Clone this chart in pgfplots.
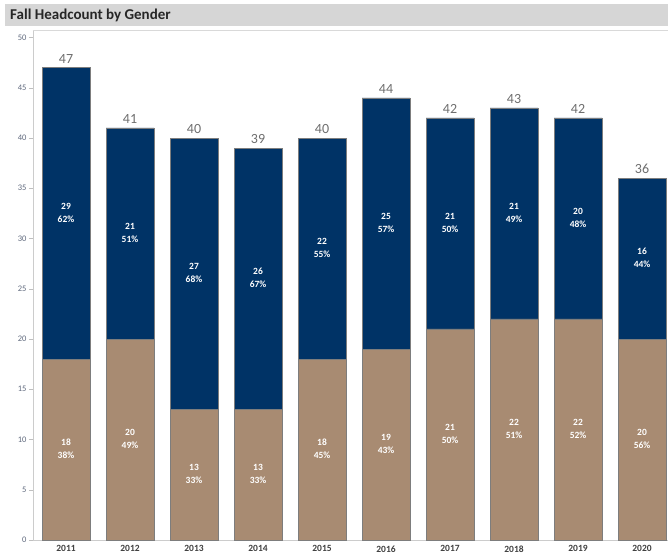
\documentclass[border=0pt]{standalone}
\usepackage{pgfplots}
\pgfplotsset{compat=1.18}
\usepackage{fontspec}
\setmainfont{Carlito}
\definecolor{navy}{RGB}{0,51,102}
\definecolor{tanc}{RGB}{168,139,114}
\definecolor{ticktxt}{RGB}{95,105,125}
\definecolor{titlebg}{RGB}{214,214,214}
\definecolor{outl}{RGB}{125,125,125}
\definecolor{totc}{RGB}{110,110,110}
\newcommand\lab[2]{\begin{tabular}{@{}c@{}}#1\\#2\%\end{tabular}}
\pgfplotsset{
  common/.style={
    scale only axis, width=635pt, height=510pt,
    xmin=-0.516, xmax=9.406, ymin=0, ymax=50.75,
  }
}
\begin{document}
\begin{tikzpicture}
\begin{axis}[common,
  ybar stacked, bar width=48pt,
  axis lines=left, axis line style={draw=black!20, -},
  xtick={0,...,9},
  xticklabels={2011,2012,2013,2014,2015,2016,2017,2018,2019,2020},
  x tick label style={font=\fontsize{9.5}{10}\selectfont\bfseries, text=black!75, yshift=2pt},
  extra x ticks={0.5,1.5,...,8.5},
  extra x tick labels={},
  extra x tick style={major tick length=4pt, tick style={draw=black!20}},
  ytick={0,5,...,50},
  y tick label style={font=\fontsize{8.5}{9}\selectfont, text=ticktxt, xshift=1pt},
  /pgf/number format/assume math mode=true,
  tick align=outside,
  major tick length=4pt,
  tick style={draw=black!25},
  xtick style={draw=none},
]
\addplot[fill=tanc, draw=outl, line width=0.6pt] coordinates
  {(0,18) (1,20) (2,13) (3,13) (4,18) (5,19) (6,21) (7,22) (8,22) (9,20)};
\addplot[fill=navy, draw=outl, line width=0.6pt] coordinates
  {(0,29) (1,21) (2,27) (3,26) (4,22) (5,25) (6,21) (7,21) (8,20) (9,16)};
\draw[black!15] (rel axis cs:0,1) -- (rel axis cs:1,1);
\end{axis}
\begin{axis}[common, hide axis,
  nodes near coords, point meta=explicit symbolic,
  nodes near coords align=center,
]
\addplot[draw=none, mark=none,
  every node near coord/.style={anchor=center, text=white, inner sep=0pt, font=\fontsize{9.5}{12.5}\selectfont\bfseries}]
  coordinates {
  (0,9)[\lab{18}{38}] (1,10)[\lab{20}{49}] (2,6.5)[\lab{13}{33}] (3,6.5)[\lab{13}{33}]
  (4,9)[\lab{18}{45}] (5,9.5)[\lab{19}{43}] (6,10.5)[\lab{21}{50}] (7,11)[\lab{22}{51}]
  (8,11)[\lab{22}{52}] (9,10)[\lab{20}{56}]};
\addplot[draw=none, mark=none,
  every node near coord/.style={anchor=center, text=white, inner sep=0pt, font=\fontsize{9.5}{12.5}\selectfont\bfseries}]
  coordinates {
  (0,32.5)[\lab{29}{62}] (1,30.5)[\lab{21}{51}] (2,26.5)[\lab{27}{68}] (3,26)[\lab{26}{67}]
  (4,29)[\lab{22}{55}] (5,31.5)[\lab{25}{57}] (6,31.5)[\lab{21}{50}] (7,32.5)[\lab{21}{49}]
  (8,32)[\lab{20}{48}] (9,28)[\lab{16}{44}]};
\addplot[draw=none, mark=none,
  every node near coord/.style={anchor=south, text=totc, yshift=1pt, font=\fontsize{14}{15}\selectfont}]
  coordinates {
  (0,47)[47] (1,41)[41] (2,40)[40] (3,39)[39] (4,40)[40]
  (5,44)[44] (6,42)[42] (7,43)[43] (8,42)[42] (9,36)[36]};
\end{axis}
\fill[titlebg] (-28pt,514pt) rectangle (635pt,536pt);
\node[anchor=west, inner sep=0pt, font=\fontsize{15}{16}\selectfont\bfseries, text=black!85] at (-23pt,525pt) {Fall Headcount by Gender};
\pgfresetboundingbox
\useasboundingbox (-33pt,-14pt) rectangle (635pt,540pt);
\end{tikzpicture}
\end{document}
